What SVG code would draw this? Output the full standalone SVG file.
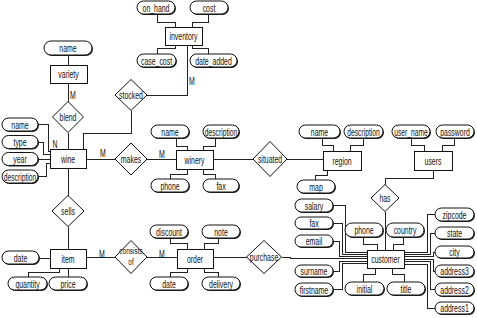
<svg xmlns="http://www.w3.org/2000/svg" width="477" height="318" viewBox="0 0 477 318">
<style>
.ent{fill:#fff;stroke:#111;stroke-width:1;shape-rendering:crispEdges}
.rel{fill:#fff;stroke:#111;stroke-width:1}
.att{fill:#fff;stroke:#111;stroke-width:1}
.sh{fill:#222}
.con polyline,.con line{fill:none;stroke:#222;stroke-width:1;shape-rendering:crispEdges}
text{font-family:"Liberation Sans",Arial,sans-serif;font-size:10.5px;fill:#111;text-anchor:middle}
text.sm{font-size:9px}
</style>
<rect width="477" height="318" fill="#fff"/>
<g id="connectors" class="con">
<line x1="68" y1="56" x2="68" y2="65"/>
<line x1="68" y1="83" x2="68" y2="101.5"/>
<line x1="68" y1="132.5" x2="68" y2="149"/>
<polyline points="187,45 187,95 147,95"/>
<polyline points="131,110.5 131,133 83,133 83,149"/>
<line x1="86" y1="159" x2="115" y2="159"/>
<line x1="147" y1="159" x2="176" y2="159"/>
<line x1="213" y1="159" x2="253" y2="159"/>
<line x1="287" y1="159" x2="323" y2="159"/>
<line x1="68" y1="168" x2="68" y2="195.5"/>
<line x1="68" y1="226.5" x2="68" y2="249"/>
<line x1="86" y1="257" x2="115" y2="257"/>
<line x1="147" y1="257" x2="177" y2="257"/>
<line x1="213" y1="257" x2="246.5" y2="257"/>
<polyline points="281.5,257 290,257 290,258 367,258"/>
<polyline points="433,170 433,178 385,178 385,184.5"/>
<line x1="385" y1="211.5" x2="385" y2="250"/>
<polyline points="157,14 157,22 175,22 175,27"/>
<polyline points="208,14 208,22 192,22 192,27"/>
<polyline points="175,45 175,48 157,48 157,54"/>
<polyline points="192,45 192,48 208,48 208,54"/>
<polyline points="38,124.5 48,124.5 48,151.5 50,151.5"/>
<polyline points="38,142 43,142 43,154.5 50,154.5"/>
<line x1="38" y1="159" x2="50" y2="159"/>
<polyline points="38,176.5 46,176.5 46,163.5 50,163.5"/>
<polyline points="176,138 176,146 187,146 187,150"/>
<polyline points="215,138 215,146 203,146 203,150"/>
<polyline points="187,169 187,174 170,174 170,179"/>
<polyline points="203,169 203,174 215,174 215,179"/>
<polyline points="322,138 322,145 333,145 333,151"/>
<polyline points="363,138 363,145 350,145 350,151"/>
<polyline points="327,170 327,175 315,175 315,180"/>
<polyline points="411,138 411,145 424,145 424,151"/>
<polyline points="454,138 454,145 442,145 442,151"/>
<polyline points="333,205.5 345,205.5 345,252 367,252"/>
<polyline points="333,223 342,223 342,254 367,254"/>
<polyline points="333,241.5 339,241.5 339,256 367,256"/>
<polyline points="333,271 339,271 339,261 367,261"/>
<polyline points="333,289.5 342,289.5 342,263.5 367,263.5"/>
<polyline points="363,237 363,244 377,244 377,250"/>
<polyline points="403,237 403,244 393,244 393,250"/>
<polyline points="375,268 375,274 363,274 363,282"/>
<polyline points="392,268 392,274 404,274 404,282"/>
<polyline points="435,214.5 427,214.5 427,252 404,252"/>
<polyline points="435,233 430,233 430,254 404,254"/>
<polyline points="435,252 433,252 433,256 404,256"/>
<polyline points="435,271 433,271 433,259 404,259"/>
<polyline points="435,289.5 430,289.5 430,261.5 404,261.5"/>
<polyline points="435,308 427,308 427,264 404,264"/>
<polyline points="170,238 170,243 187,243 187,249"/>
<polyline points="218,238 218,243 204,243 204,249"/>
<polyline points="187,268 187,272 170,272 170,277"/>
<polyline points="204,268 204,272 218,272 218,277"/>
<line x1="39" y1="258" x2="50" y2="258"/>
<polyline points="59,268 59,272 28,272 28,277"/>
<line x1="68" y1="268" x2="68" y2="277"/>
</g>
<g id="labels">
<text transform="translate(73 99) scale(.66 1)">M</text>
<text transform="translate(192 85) scale(.66 1)">M</text>
<text transform="translate(55 148) scale(.66 1)">N</text>
<text transform="translate(103 157) scale(.66 1)">M</text>
<text transform="translate(162 158) scale(.66 1)">M</text>
<text transform="translate(102 258) scale(.66 1)">M</text>
<text transform="translate(162 258) scale(.66 1)">M</text>
</g>
<g id="inventory"><rect class="ent" x="165" y="27" width="37" height="18"/><text transform="translate(183.5 40) scale(.66 1)">inventory</text></g>
<g id="variety"><rect class="ent" x="50" y="65" width="37" height="18"/><text transform="translate(68.5 78) scale(.66 1)">variety</text></g>
<g id="wine"><rect class="ent" x="50" y="149" width="36" height="19"/><text transform="translate(68 162.5) scale(.66 1)">wine</text></g>
<g id="winery"><rect class="ent" x="176" y="150" width="37" height="19"/><text transform="translate(194.5 163.5) scale(.66 1)">winery</text></g>
<g id="region"><rect class="ent" x="323" y="151" width="38" height="19"/><text transform="translate(342 164.5) scale(.66 1)">region</text></g>
<g id="users"><rect class="ent" x="414" y="151" width="38" height="19"/><text transform="translate(433 164.5) scale(.66 1)">users</text></g>
<g id="customer"><rect class="ent" x="367" y="250" width="37" height="18"/><text transform="translate(385.5 263) scale(.66 1)">customer</text></g>
<g id="item"><rect class="ent" x="50" y="249" width="36" height="19"/><text transform="translate(68 262.5) scale(.66 1)">item</text></g>
<g id="order"><rect class="ent" x="177" y="249" width="36" height="19"/><text transform="translate(195 262.5) scale(.66 1)">order</text></g>
<g id="stocked"><polygon class="rel" points="131,79.5 147,95 131,110.5 115,95"/><text transform="translate(131 99) scale(.66 1)">stocked</text></g>
<g id="blend"><polygon class="rel" points="68,101.5 83.5,117 68,132.5 52.5,117"/><text transform="translate(68 121) scale(.66 1)">blend</text></g>
<g id="makes"><polygon class="rel" points="131,143 147,159 131,175 115,159"/><text transform="translate(131 163) scale(.66 1)">makes</text></g>
<g id="situated"><polygon class="rel" points="270,141.5 287,159 270,176.5 253,159"/><text transform="translate(270 163) scale(.66 1)">situated</text></g>
<g id="has"><polygon class="rel" points="385,184.5 399,198 385,211.5 371,198"/><text transform="translate(385 202) scale(.66 1)">has</text></g>
<g id="sells"><polygon class="rel" points="68,195.5 84,211 68,226.5 52,211"/><text transform="translate(68 215) scale(.66 1)">sells</text></g>
<g id="consists_of"><polygon class="rel" points="131,240.5 147,257 131,273.5 115,257"/><text class="sm" transform="translate(131 254) scale(.72 1)">consists</text><text class="sm" transform="translate(131 264.5) scale(.72 1)">of</text></g>
<g id="purchase"><polygon class="rel" points="264,240.5 281.5,257 264,273.5 246.5,257"/><text transform="translate(264 261) scale(.66 1)">purchase</text></g>
<g id="inv_on_hand"><rect class="sh" x="138" y="2" width="38" height="13" rx="6.5"/><rect class="att" x="137" y="1" width="38" height="13" rx="6.5"/><text transform="translate(156 11.5) scale(.66 1)">on_hand</text></g>
<g id="inv_cost"><rect class="sh" x="191" y="2" width="38" height="13" rx="6.5"/><rect class="att" x="190" y="1" width="38" height="13" rx="6.5"/><text transform="translate(209 11.5) scale(.66 1)">cost</text></g>
<g id="inv_case_cost"><rect class="sh" x="138" y="55" width="39" height="13" rx="6.5"/><rect class="att" x="137" y="54" width="39" height="13" rx="6.5"/><text transform="translate(156.5 64.5) scale(.66 1)">case_cost</text></g>
<g id="inv_date_added"><rect class="sh" x="191" y="55" width="47" height="13" rx="6.5"/><rect class="att" x="190" y="54" width="47" height="13" rx="6.5"/><text transform="translate(213.5 64.5) scale(.66 1)">date_added</text></g>
<g id="variety_name"><rect class="sh" x="45" y="42" width="48" height="14" rx="7"/><rect class="att" x="44" y="41" width="48" height="14" rx="7"/><text transform="translate(68 52) scale(.66 1)">name</text></g>
<g id="wine_name"><rect class="sh" x="3" y="119" width="36" height="13" rx="6.5"/><rect class="att" x="2" y="118" width="36" height="13" rx="6.5"/><text transform="translate(20 128.5) scale(.66 1)">name</text></g>
<g id="wine_type"><rect class="sh" x="3" y="136.5" width="36" height="13" rx="6.5"/><rect class="att" x="2" y="135.5" width="36" height="13" rx="6.5"/><text transform="translate(20 146) scale(.66 1)">type</text></g>
<g id="wine_year"><rect class="sh" x="3" y="153.5" width="36" height="13" rx="6.5"/><rect class="att" x="2" y="152.5" width="36" height="13" rx="6.5"/><text transform="translate(20 163) scale(.66 1)">year</text></g>
<g id="wine_description"><rect class="sh" x="3" y="171" width="36" height="13" rx="6.5"/><rect class="att" x="2" y="170" width="36" height="13" rx="6.5"/><text transform="translate(20 180.5) scale(.64 1)">description</text></g>
<g id="winery_name"><rect class="sh" x="152" y="126" width="38" height="13" rx="6.5"/><rect class="att" x="151" y="125" width="38" height="13" rx="6.5"/><text transform="translate(170 135.5) scale(.66 1)">name</text></g>
<g id="winery_description"><rect class="sh" x="204" y="126" width="36" height="13" rx="6.5"/><rect class="att" x="203" y="125" width="36" height="13" rx="6.5"/><text transform="translate(221 135.5) scale(.64 1)">description</text></g>
<g id="winery_phone"><rect class="sh" x="152" y="180" width="38" height="13" rx="6.5"/><rect class="att" x="151" y="179" width="38" height="13" rx="6.5"/><text transform="translate(170 189.5) scale(.66 1)">phone</text></g>
<g id="winery_fax"><rect class="sh" x="204" y="180" width="36" height="13" rx="6.5"/><rect class="att" x="203" y="179" width="36" height="13" rx="6.5"/><text transform="translate(221 189.5) scale(.66 1)">fax</text></g>
<g id="region_name"><rect class="sh" x="300" y="126" width="41" height="13" rx="6.5"/><rect class="att" x="299" y="125" width="41" height="13" rx="6.5"/><text transform="translate(319.5 135.5) scale(.66 1)">name</text></g>
<g id="region_description"><rect class="sh" x="345" y="126" width="39" height="13" rx="6.5"/><rect class="att" x="344" y="125" width="39" height="13" rx="6.5"/><text transform="translate(363.5 135.5) scale(.64 1)">description</text></g>
<g id="region_map"><rect class="sh" x="298" y="181" width="38" height="13" rx="6.5"/><rect class="att" x="297" y="180" width="38" height="13" rx="6.5"/><text transform="translate(316 190.5) scale(.66 1)">map</text></g>
<g id="users_user_name"><rect class="sh" x="393" y="126" width="38" height="13" rx="6.5"/><rect class="att" x="392" y="125" width="38" height="13" rx="6.5"/><text transform="translate(411 135.5) scale(.64 1)">user_name</text></g>
<g id="users_password"><rect class="sh" x="437" y="126" width="38" height="13" rx="6.5"/><rect class="att" x="436" y="125" width="38" height="13" rx="6.5"/><text transform="translate(455 135.5) scale(.66 1)">password</text></g>
<g id="cust_salary"><rect class="sh" x="296" y="200" width="38" height="13" rx="6.5"/><rect class="att" x="295" y="199" width="38" height="13" rx="6.5"/><text transform="translate(314 209.5) scale(.66 1)">salary</text></g>
<g id="cust_fax"><rect class="sh" x="296" y="218" width="38" height="12" rx="6"/><rect class="att" x="295" y="217" width="38" height="12" rx="6"/><text transform="translate(314 227) scale(.66 1)">fax</text></g>
<g id="cust_email"><rect class="sh" x="296" y="236" width="38" height="12" rx="6"/><rect class="att" x="295" y="235" width="38" height="12" rx="6"/><text transform="translate(314 245) scale(.66 1)">email</text></g>
<g id="cust_surname"><rect class="sh" x="296" y="266" width="38" height="12" rx="6"/><rect class="att" x="295" y="265" width="38" height="12" rx="6"/><text transform="translate(314 275) scale(.66 1)">surname</text></g>
<g id="cust_firstname"><rect class="sh" x="296" y="284" width="38" height="13" rx="6.5"/><rect class="att" x="295" y="283" width="38" height="13" rx="6.5"/><text transform="translate(314 293.5) scale(.66 1)">firstname</text></g>
<g id="cust_phone"><rect class="sh" x="346" y="224" width="38" height="14" rx="7"/><rect class="att" x="345" y="223" width="38" height="14" rx="7"/><text transform="translate(364 234) scale(.66 1)">phone</text></g>
<g id="cust_country"><rect class="sh" x="387" y="224" width="38" height="14" rx="7"/><rect class="att" x="386" y="223" width="38" height="14" rx="7"/><text transform="translate(405 234) scale(.66 1)">country</text></g>
<g id="cust_initial"><rect class="sh" x="346" y="283" width="39" height="13" rx="6.5"/><rect class="att" x="345" y="282" width="39" height="13" rx="6.5"/><text transform="translate(364.5 292.5) scale(.66 1)">initial</text></g>
<g id="cust_title"><rect class="sh" x="388" y="283" width="38" height="13" rx="6.5"/><rect class="att" x="387" y="282" width="38" height="13" rx="6.5"/><text transform="translate(406 292.5) scale(.66 1)">title</text></g>
<g id="cust_zipcode"><rect class="sh" x="436" y="209" width="39" height="13" rx="6.5"/><rect class="att" x="435" y="208" width="39" height="13" rx="6.5"/><text transform="translate(454.5 218.5) scale(.66 1)">zipcode</text></g>
<g id="cust_state"><rect class="sh" x="436" y="228" width="39" height="12" rx="6"/><rect class="att" x="435" y="227" width="39" height="12" rx="6"/><text transform="translate(454.5 237) scale(.66 1)">state</text></g>
<g id="cust_city"><rect class="sh" x="436" y="247" width="39" height="12" rx="6"/><rect class="att" x="435" y="246" width="39" height="12" rx="6"/><text transform="translate(454.5 256) scale(.66 1)">city</text></g>
<g id="cust_address3"><rect class="sh" x="436" y="266" width="39" height="12" rx="6"/><rect class="att" x="435" y="265" width="39" height="12" rx="6"/><text transform="translate(454.5 275) scale(.66 1)">address3</text></g>
<g id="cust_address2"><rect class="sh" x="436" y="284" width="39" height="13" rx="6.5"/><rect class="att" x="435" y="283" width="39" height="13" rx="6.5"/><text transform="translate(454.5 293.5) scale(.66 1)">address2</text></g>
<g id="cust_address1"><rect class="sh" x="436" y="303" width="39" height="12" rx="6"/><rect class="att" x="435" y="302" width="39" height="12" rx="6"/><text transform="translate(454.5 312) scale(.66 1)">address1</text></g>
<g id="order_discount"><rect class="sh" x="151" y="226" width="38" height="13" rx="6.5"/><rect class="att" x="150" y="225" width="38" height="13" rx="6.5"/><text transform="translate(169 235.5) scale(.66 1)">discount</text></g>
<g id="order_note"><rect class="sh" x="203" y="226" width="38" height="13" rx="6.5"/><rect class="att" x="202" y="225" width="38" height="13" rx="6.5"/><text transform="translate(221 235.5) scale(.66 1)">note</text></g>
<g id="order_date"><rect class="sh" x="151" y="278" width="38" height="13" rx="6.5"/><rect class="att" x="150" y="277" width="38" height="13" rx="6.5"/><text transform="translate(169 287.5) scale(.66 1)">date</text></g>
<g id="order_delivery"><rect class="sh" x="203" y="278" width="38" height="13" rx="6.5"/><rect class="att" x="202" y="277" width="38" height="13" rx="6.5"/><text transform="translate(221 287.5) scale(.66 1)">delivery</text></g>
<g id="item_date"><rect class="sh" x="3" y="252" width="37" height="13" rx="6.5"/><rect class="att" x="2" y="251" width="37" height="13" rx="6.5"/><text transform="translate(20.5 261.5) scale(.66 1)">date</text></g>
<g id="item_quantity"><rect class="sh" x="9" y="278" width="39" height="13" rx="6.5"/><rect class="att" x="8" y="277" width="39" height="13" rx="6.5"/><text transform="translate(27.5 287.5) scale(.66 1)">quantity</text></g>
<g id="item_price"><rect class="sh" x="50" y="278" width="38" height="13" rx="6.5"/><rect class="att" x="49" y="277" width="38" height="13" rx="6.5"/><text transform="translate(68 287.5) scale(.66 1)">price</text></g>
</svg>
